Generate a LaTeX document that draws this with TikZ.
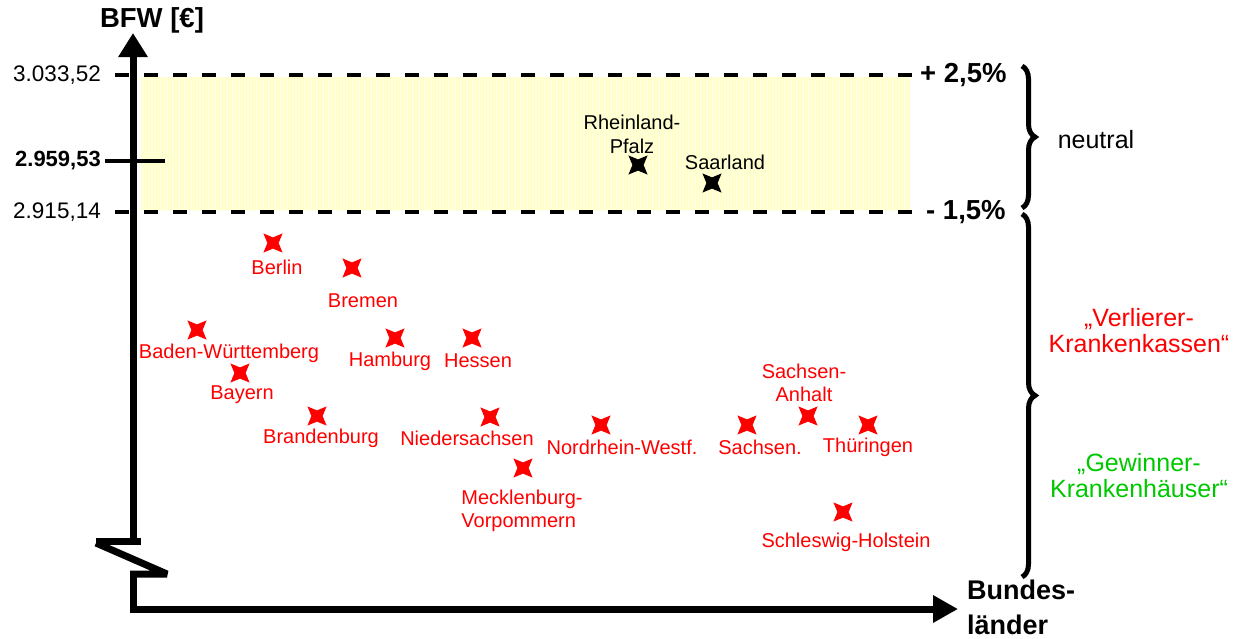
\documentclass[tikz,border=0pt]{standalone}
\usepackage{fontspec}
\setmainfont{Liberation Sans}
\usetikzlibrary{arrows.meta,shapes.geometric,decorations.pathreplacing,patterns}
\definecolor{gelb}{RGB}{255,255,220}
\definecolor{gruen}{RGB}{0,200,0}
\definecolor{rot}{RGB}{255,0,0}
\begin{document}
\begin{tikzpicture}[x=1pt,y=-1pt,
    kreuz/.style={star,star points=4,star point ratio=2.4,shape border rotate=45,
                  minimum size=27,inner sep=0pt},
    rkreuz/.style={kreuz,fill=rot},
    skreuz/.style={kreuz,fill=black},
    rlab/.style={text=rot,font=\fontsize{20}{23}\selectfont,align=center},
    slab/.style={font=\fontsize{20}{24}\selectfont,align=center},
    ylab/.style={font=\fontsize{22.5}{24}\selectfont,anchor=east},
    glab/.style={font=\fontsize{25}{26}\selectfont,align=center},
    blab/.style={font=\bfseries\fontsize{27.5}{35}\selectfont},
    achse/.style={line width=7pt},
    grenze/.style={line width=4.5pt,dash pattern=on 14pt off 15pt},
    klammer/.style={line width=5pt,decorate,decoration={brace,amplitude=13pt}}]
\tikzset{every node/.style={inner sep=1pt}}
\useasboundingbox (0,0) rectangle (1241,638);
% neutral band
\fill[gelb] (141,77) rectangle (910,210);
\fill[pattern=vertical lines,pattern color=yellow!25] (141,77) rectangle (910,210);
% axis with break
\coordinate (ytop) at (133,33);
\coordinate (ybrk) at (133,541);
\coordinate (brkl) at (96,541);
\coordinate (brkr) at (141,541);
\coordinate (zz1) at (96,543);
\coordinate (zz2) at (167,574);
\coordinate (zz3) at (130,574);
\coordinate (ylow) at (133,574);
\coordinate (orig) at (133,609);
\coordinate (xend) at (958,609);
\draw[achse,-{Triangle[width=28pt,length=24pt]}] (ybrk) -- (ytop);
\draw[achse] (brkl) -- (brkr);
\draw[achse,line join=bevel] (zz1) -- (zz2) -- (zz3);
\draw[achse,-{Triangle[width=26pt,length=25pt]}] (ylow) -- (orig) -- (xend);
\node[blab] (bfw) at (152,20) {BFW [€]};
\node[blab,anchor=west,align=left,font=\bfseries\fontsize{27}{35}\selectfont] (bl) at (966,607) {Bundes-\\länder};
% limits
\coordinate (o1) at (115,75);
\coordinate (o2) at (914,75);
\coordinate (u1) at (115,212);
\coordinate (u2) at (914,212);
\coordinate (m1) at (105,161);
\coordinate (m2) at (165,161);
\draw[grenze] (o1) -- (o2);
\draw[grenze] (u1) -- (u2);
\draw[line width=4pt] (m1) -- (m2);
\node[ylab] (yo) at (102,75) {3.033,52};
\node[ylab,font=\bfseries\fontsize{22}{24}\selectfont] (ym) at (102,161) {2.959,53};
\node[ylab] (yu) at (102,212) {2.915,14};
\node[blab,anchor=west] (po) at (919,75) {+ 2,5\%};
\node[blab,anchor=west] (pu) at (925,212) {- 1,5\%};
% braces
\coordinate (k1) at (1022,66);
\coordinate (k2) at (1022,208);
\coordinate (k3) at (1022,214);
\coordinate (k4) at (1022,577);
\draw[klammer] (k1) -- (k2);
\draw[klammer] (k3) -- (k4);
\node[glab] (neu) at (1096,140) {neutral};
\node[glab,text=rot] (verl) at (1139,331) {„Verlierer-\\Krankenkassen“};
\node[glab,text=gruen] (gew) at (1139,476) {„Gewinner-\\Krankenhäuser“};
% Bundeslaender
\node[skreuz] (rlp) at (638,165) {};
\node[slab] (rlpl) at (632,134) {Rheinland-\\Pfalz};
\node[skreuz] (saar) at (712,183) {};
\node[slab] (saarl) at (725,162) {Saarland};
\node[rkreuz] (ber) at (273,243) {};
\node[rlab] (berl) at (277,267) {Berlin};
\node[rkreuz] (bre) at (352,268) {};
\node[rlab] (brel) at (363,301) {Bremen};
\node[rkreuz] (bw) at (197,330) {};
\node[rlab] (bwl) at (229,353) {Baden-Württemberg};
\node[rkreuz] (hh) at (395,338) {};
\node[rlab] (hhl) at (390,361) {Hamburg};
\node[rkreuz] (he) at (472,338) {};
\node[rlab] (hel) at (478,361) {Hessen};
\node[rkreuz] (by) at (240,373) {};
\node[rlab] (byl) at (242,395) {Bayern};
\node[rkreuz] (bb) at (317,416) {};
\node[rlab] (bbl) at (321,438) {Brandenburg};
\node[rkreuz] (ni) at (490,417) {};
\node[rlab] (nil) at (467,438) {Niedersachsen};
\node[rkreuz] (nw) at (601,425) {};
\node[rlab] (nwl) at (622,447) {Nordrhein-Westf.};
\node[rkreuz] (mv) at (523,468) {};
\node[rlab,align=left] (mvl) at (522,511) {Mecklenburg-\\Vorpommern};
\node[rkreuz] (sn) at (747,425) {};
\node[rlab] (snl) at (760,447) {Sachsen.};
\node[rkreuz] (st) at (808,416) {};
\node[rlab] (stl) at (804,383) {Sachsen-\\Anhalt};
\node[rkreuz] (th) at (868,425) {};
\node[rlab] (thl) at (868,447) {Thüringen};
\node[rkreuz] (sh) at (843,512) {};
\node[rlab] (shl) at (846,542) {Schleswig-Holstein};
\end{tikzpicture}
\end{document}
